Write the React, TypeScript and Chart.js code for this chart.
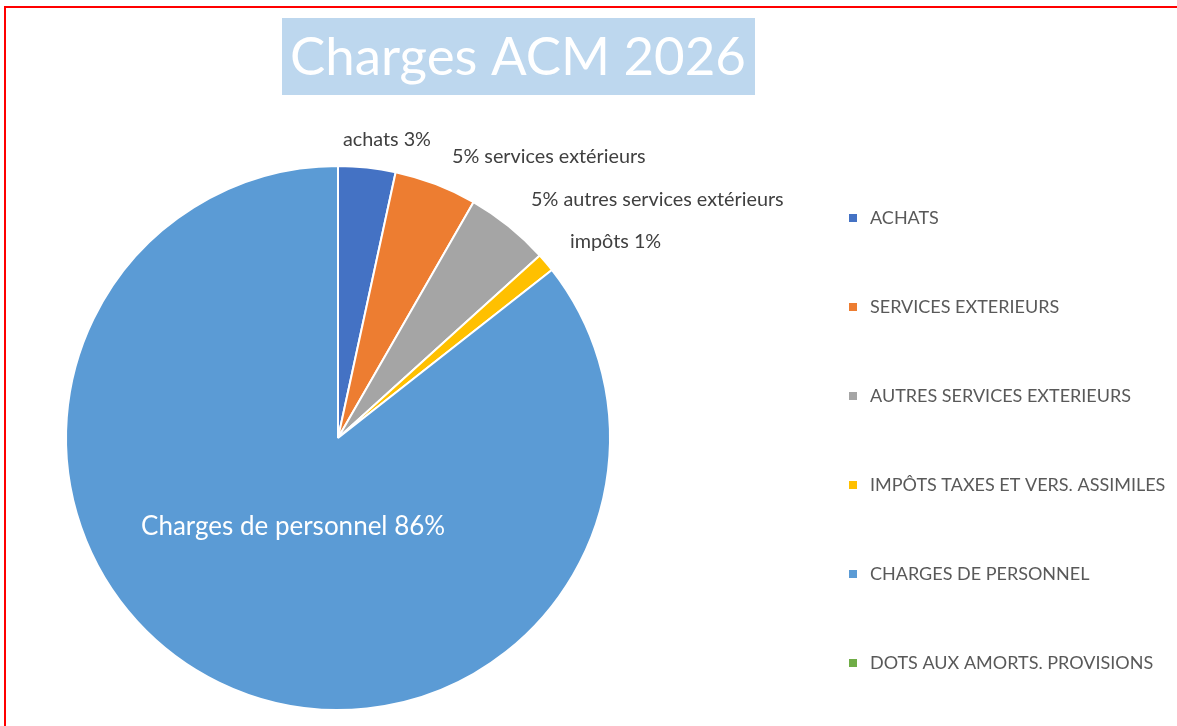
import { useEffect, useRef } from "react";
import { Chart, registerables } from "chart.js";

Chart.register(...registerables);

const titleText = "Charges ACM 2026";
const categories = [
  "ACHATS",
  "SERVICES EXTERIEURS",
  "AUTRES SERVICES EXTERIEURS",
  "IMPÔTS TAXES ET VERS. ASSIMILES",
  "CHARGES DE PERSONNEL",
  "DOTS AUX AMORTS. PROVISIONS",
];
const sliceNames = [
  "achats",
  "services extérieurs",
  "autres services extérieurs",
  "impôts",
  "Charges de personnel",
  "",
];
const percentFirst = [false, true, true, false, false, false];
const values = [3.4, 4.9, 5.0, 1.1, 85.6, 0];
const colors = ["#4472C4", "#ED7D31", "#A5A5A5", "#FFC000", "#5B9BD5", "#70AD47"];

const FONT = "Lato, 'Open Sans', sans-serif";

// label anchor positions, in pie-radius units relative to the pie centre (left-aligned text, middle baseline)
const labelAnchors: [number, number][] = [
  [0.018, -1.096],
  [0.419, -1.033],
  [0.71, -0.875],
  [0.853, -0.721],
  [-0.724, 0.327],
  [0, 0],
];

const framePlugin = {
  id: "frame",
  beforeDraw(chart: any) {
    const ctx = chart.ctx;
    ctx.save();
    ctx.fillStyle = "#FFFFFF";
    ctx.fillRect(0, 0, chart.width, chart.height);
    ctx.restore();
  },
  afterDraw(chart: any) {
    const ctx = chart.ctx;
    ctx.save();
    // red frame
    ctx.strokeStyle = "#FF0000";
    ctx.lineWidth = 2;
    ctx.beginPath();
    ctx.moveTo(5, chart.height + 10);
    ctx.lineTo(5, 7);
    ctx.lineTo(chart.width + 10, 7);
    ctx.stroke();

    // title box
    ctx.fillStyle = "#BDD7EE";
    ctx.fillRect(282, 18, 473, 77);
    ctx.font = `100px ${FONT}`;
    const w100 = ctx.measureText(titleText).width;
    const tSize = Math.min(60, (100 * 456) / w100);
    ctx.fillStyle = "#FFFFFF";
    ctx.font = `${tSize.toFixed(1)}px ${FONT}`;
    ctx.textAlign = "center";
    ctx.textBaseline = "alphabetic";
    ctx.fillText(titleText, 518, 75);

    // data labels
    const meta = chart.getDatasetMeta(0);
    const arc0 = meta.data[0];
    const cx = arc0.x;
    const cy = arc0.y;
    const r = arc0.outerRadius;
    const ds = chart.data.datasets[0].data as number[];
    const total = ds.reduce((a: number, b: number) => a + b, 0);
    ds.forEach((v: number, i: number) => {
      if (!v) return;
      const pct = Math.round((v / total) * 100) + "%";
      const txt = percentFirst[i] ? `${pct} ${sliceNames[i]}` : `${sliceNames[i]} ${pct}`;
      const [ax, ay] = labelAnchors[i];
      const inside = i === 4;
      ctx.font = inside ? `26px ${FONT}` : `19.8px ${FONT}`;
      ctx.fillStyle = inside ? "#FFFFFF" : "#404040";
      ctx.textAlign = "left";
      ctx.textBaseline = "middle";
      ctx.fillText(txt, cx + ax * r, cy + ay * r);
    });

    // legend
    const labels = chart.data.labels as string[];
    const bg = chart.data.datasets[0].backgroundColor as string[];
    labels.forEach((lab: string, i: number) => {
      const y = 218 + i * 89;
      ctx.fillStyle = bg[i];
      ctx.fillRect(849, y - 4, 8, 8);
      ctx.fillStyle = "#595959";
      ctx.font = `18px ${FONT}`;
      ctx.textAlign = "left";
      ctx.textBaseline = "middle";
      ctx.fillText(lab, 870, y);
    });
    ctx.restore();
  },
};

export default function App() {
  const ref = useRef<HTMLCanvasElement>(null);
  useEffect(() => {
    if (!ref.current) return;
    const chart = new Chart(ref.current, {
      type: "pie",
      data: {
        labels: categories,
        datasets: [
          {
            data: values,
            backgroundColor: colors,
            borderColor: "#FFFFFF",
            borderWidth: 2,
          },
        ],
      },
      options: {
        responsive: false,
        animation: false,
        layout: { padding: { left: 65, right: 566, top: 165, bottom: 15 } },
        plugins: {
          legend: { display: false },
          tooltip: { enabled: false },
          title: { display: false },
        },
      },
      plugins: [framePlugin],
    });
    return () => chart.destroy();
  }, []);
  return (
    <div style={{ position: "fixed", left: 0, top: 0, width: 1177, height: 726 }}>
      <canvas ref={ref} width={1177} height={726} style={{ width: 1177, height: 726 }} />
    </div>
  );
}
